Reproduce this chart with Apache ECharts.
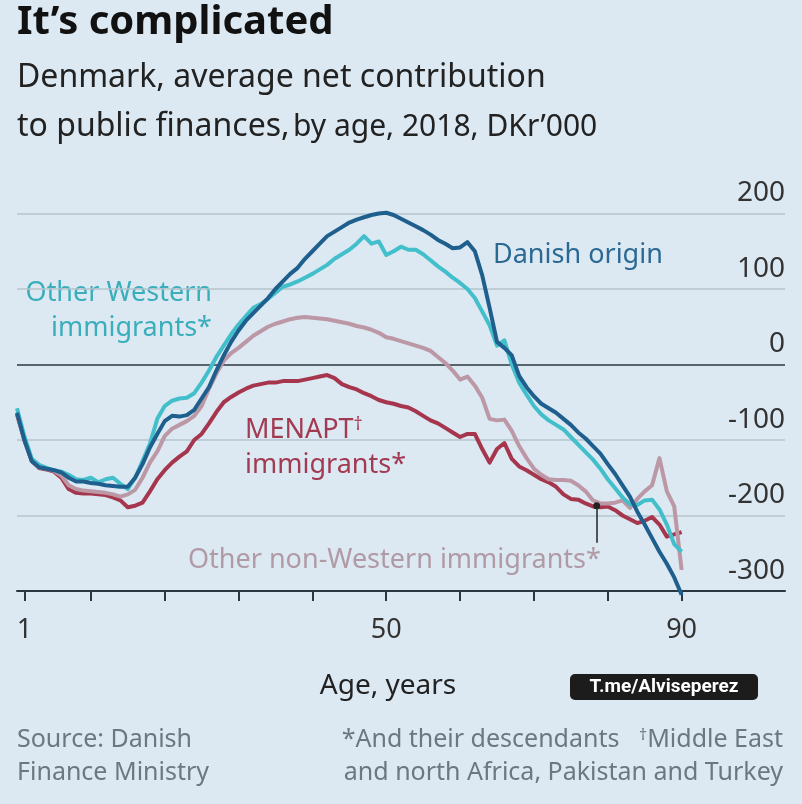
<!DOCTYPE html>
<html lang="en">
<head>
<meta charset="UTF-8">
<title>It's complicated</title>
<script src="https://cdn.jsdelivr.net/npm/echarts@6/dist/echarts.min.js"></script>
<style>
  html, body { margin: 0; padding: 0; background: #dce9f2; }
  #chart { width: 802px; height: 804px; }
</style>
</head>
<body>
<div id="chart"></div>
<script>
// ages 0..90
const ages = [0,1,2,3,4,5,6,7,8,9,10,11,12,13,14,15,16,17,18,19,20,21,22,23,24,25,26,27,28,29,30,
  31,32,33,34,35,36,37,38,39,40,41,42,43,44,45,46,47,48,49,50,51,52,53,54,55,56,57,58,59,60,
  61,62,63,64,65,66,67,68,69,70,71,72,73,74,75,76,77,78,79,80,81,82,83,84,85,86,87,88,89,90]

// DKr'000 per person
const danishOrigin = [-64,-100,-128,-136,-138,-140,-143,-150,-155,-155,-157,-158,-160,-161,-162,-162,-150,-132,-110,-92,-75,
  -68,-69,-67,-60,-45,-30,-8,12,30,45,58,68,78,88,100,110,120,128,140,150,
  160,170,176,182,188,192,195,198,200,201,198,193,188,183,178,172,165,160,154,155,
  162,150,118,75,30,22,12,-15,-30,-42,-52,-58,-64,-72,-80,-90,-98,-108,-118,-132,
  -145,-160,-175,-195,-212,-230,-248,-264,-282,-305]

const otherWestern = [-58,-95,-125,-133,-137,-140,-142,-146,-152,-153,-150,-156,-152,-150,-158,-165,-150,-128,-105,-72,-55,
  -48,-45,-44,-38,-24,-8,10,25,40,53,64,75,80,87,95,103,106,110,115,120,
  126,132,140,146,152,160,170,160,163,145,150,156,152,152,146,138,130,123,115,108,
  100,88,70,52,25,32,0,-24,-40,-55,-66,-74,-80,-86,-96,-106,-116,-126,-138,-152,
  -164,-176,-185,-186,-180,-179,-192,-212,-238,-248]

const menapt = [-66,-100,-128,-137,-139,-142,-150,-165,-170,-171,-171,-172,-173,-176,-180,-189,-187,-183,-168,-152,-140,
  -130,-122,-115,-100,-92,-78,-63,-50,-43,-37,-32,-28,-26,-24,-24,-22,-22,-22,-20,-18,
  -16,-14,-18,-26,-30,-33,-38,-42,-47,-50,-52,-55,-57,-62,-68,-74,-78,-84,-90,-96,
  -92,-92,-112,-130,-112,-104,-125,-135,-140,-146,-152,-156,-162,-172,-178,-179,-184,-188,-189,-188,
  -193,-200,-205,-210,-207,-202,-212,-228,-225,-222]

const otherNonWestern = [-64,-100,-127,-136,-138,-141,-147,-160,-165,-167,-168,-169,-170,-172,-175,-172,-166,-150,-130,-115,-95,
  -85,-80,-75,-68,-55,-32,-12,5,15,22,30,38,44,50,54,57,60,62,63,62,
  61,60,58,56,54,51,49,46,42,36,34,31,28,25,22,18,10,2,-8,-20,
  -16,-28,-44,-72,-74,-73,-88,-108,-124,-138,-146,-152,-153,-153,-154,-160,-168,-180,-184,-184,
  -183,-180,-190,-178,-168,-160,-124,-168,-188,-272]

const xTicks = [1,10,20,30,40,50,60,70,80,90]
const xLabels = [1,50,90]

const pairs = arr => ages.map((a, i) => [a, arr[i]])

const font = '"Noto Sans", "Open Sans", sans-serif'

const chart = echarts.init(document.getElementById('chart'))

const line = (name, data, color) => ({
  name: name,
  type: 'line',
  data: pairs(data),
  showSymbol: false,
  clip: false,
  lineStyle: { color: color, width: 4, join: 'round' },
  itemStyle: { color: color },
  silent: true
})

const nonWestern = line('Other non-Western immigrants*', otherNonWestern, '#bc97a5')
nonWestern.markLine = {
  silent: true,
  symbol: ['circle', 'none'],
  symbolSize: 7,
  label: { show: false },
  lineStyle: { color: '#222', width: 1.5, type: 'solid' },
  data: [[{ coord: [78.5, -187] }, { coord: [78.5, -236] }]]
}

chart.setOption({
  backgroundColor: '#dce9f2',
  animation: false,
  grid: { left: 17, right: 17, top: 213.5, bottom: 213 },
  xAxis: {
    type: 'value',
    min: 0,
    max: 104,
    axisLine: { onZero: false, lineStyle: { color: '#2b3640', width: 2 } },
    axisTick: { customValues: xTicks, length: 10, lineStyle: { color: '#2b3640', width: 2 } },
    axisLabel: { customValues: xLabels, margin: 26, fontSize: 27, color: '#333', fontFamily: font },
    splitLine: { show: false }
  },
  yAxis: {
    type: 'value',
    position: 'right',
    min: -300,
    max: 200,
    interval: 100,
    axisLine: { show: false },
    axisTick: { show: false },
    axisLabel: {
      inside: true, margin: 0, fontSize: 28, color: '#333', fontFamily: font,
      verticalAlign: 'bottom', padding: [0, 0, 6, 0]
    },
    splitLine: {
      lineStyle: { color: ['#2b3640', '#b4c3cd', '#b4c3cd', '#2b3640', '#b4c3cd', '#b4c3cd'], width: 1.5 }
    }
  },
  series: [
    line('MENAPT immigrants*', menapt, '#a6364d'),
    nonWestern,
    line('Other Western immigrants*', otherWestern, '#42bfcb'),
    line('Danish origin', danishOrigin, '#1e5f8e')
  ],
  graphic: [
    { type: 'text', left: 17, top: 3, style: { text: 'It’s complicated', font: 'bold 40px ' + font, fill: '#111' } },
    { type: 'text', x: 17, y: 78, style: { text: 'Denmark, average net contribution', font: '32px ' + font, fill: '#222', verticalAlign: 'middle' } },
    { type: 'text', x: 17, y: 127, style: {
      text: '{a|to public finances,} {b|by age, 2018, DKr’000}', verticalAlign: 'middle',
      rich: { a: { fontSize: 32, fontFamily: font, fill: '#222' }, b: { fontSize: 30, fontFamily: font, fill: '#222' } }
    } },
    { type: 'text', x: 493, y: 255, style: { text: 'Danish origin', font: '27px ' + font, fill: '#2a6994', verticalAlign: 'middle' } },
    { type: 'text', x: 212, y: 293, style: { text: 'Other Western', font: '27px ' + font, fill: '#3aaebb', align: 'right', verticalAlign: 'middle' } },
    { type: 'text', x: 212, y: 328, style: { text: 'immigrants*', font: '27px ' + font, fill: '#3aaebb', align: 'right', verticalAlign: 'middle' } },
    { type: 'text', x: 245, y: 430, style: {
      text: '{a|MENAPT}{s|†}', verticalAlign: 'middle',
      rich: { a: { fontSize: 27, fontFamily: font, fill: '#a23a52' }, s: { fontSize: 18, fontFamily: font, fill: '#a23a52', verticalAlign: 'top', padding: [0, 0, 10, 0] } }
    } },
    { type: 'text', x: 245, y: 465, style: { text: 'immigrants*', font: '27px ' + font, fill: '#a23a52', verticalAlign: 'middle' } },
    { type: 'text', x: 188, y: 560, style: { text: 'Other non-Western immigrants*', font: '27px ' + font, fill: '#b09aa5', verticalAlign: 'middle' } },
    { type: 'text', x: 388, y: 686, style: { text: 'Age, years', font: '28px ' + font, fill: '#222', align: 'center', verticalAlign: 'middle' } },
    { type: 'group', left: 570, top: 674, children: [
      { type: 'rect', shape: { x: 0, y: 0, width: 188, height: 26, r: 5 }, style: { fill: '#1c1c1c' } },
      { type: 'text', x: 94, y: 13, style: { text: 'T.me/Alviseperez', font: 'bold 19px Roboto, sans-serif', fill: '#fff', align: 'center', verticalAlign: 'middle' } }
    ] },
    { type: 'text', x: 17, y: 740, style: { text: 'Source: Danish', font: '25px ' + font, fill: '#6b7781', verticalAlign: 'middle' } },
    { type: 'text', x: 17, y: 773, style: { text: 'Finance Ministry', font: '25px ' + font, fill: '#6b7781', verticalAlign: 'middle' } },
    { type: 'text', x: 783, y: 740, style: {
      text: '{a|*And their descendants   }{s|†}{a|Middle East}', align: 'right', verticalAlign: 'middle',
      rich: { a: { fontSize: 25, fontFamily: font, fill: '#6b7781' }, s: { fontSize: 16, fontFamily: font, fill: '#6b7781', padding: [0, 0, 10, 0] } }
    } },
    { type: 'text', x: 783, y: 773, style: { text: 'and north Africa, Pakistan and Turkey', font: '25px ' + font, fill: '#6b7781', align: 'right', verticalAlign: 'middle' } }
  ]
})
</script>
</body>
</html>
